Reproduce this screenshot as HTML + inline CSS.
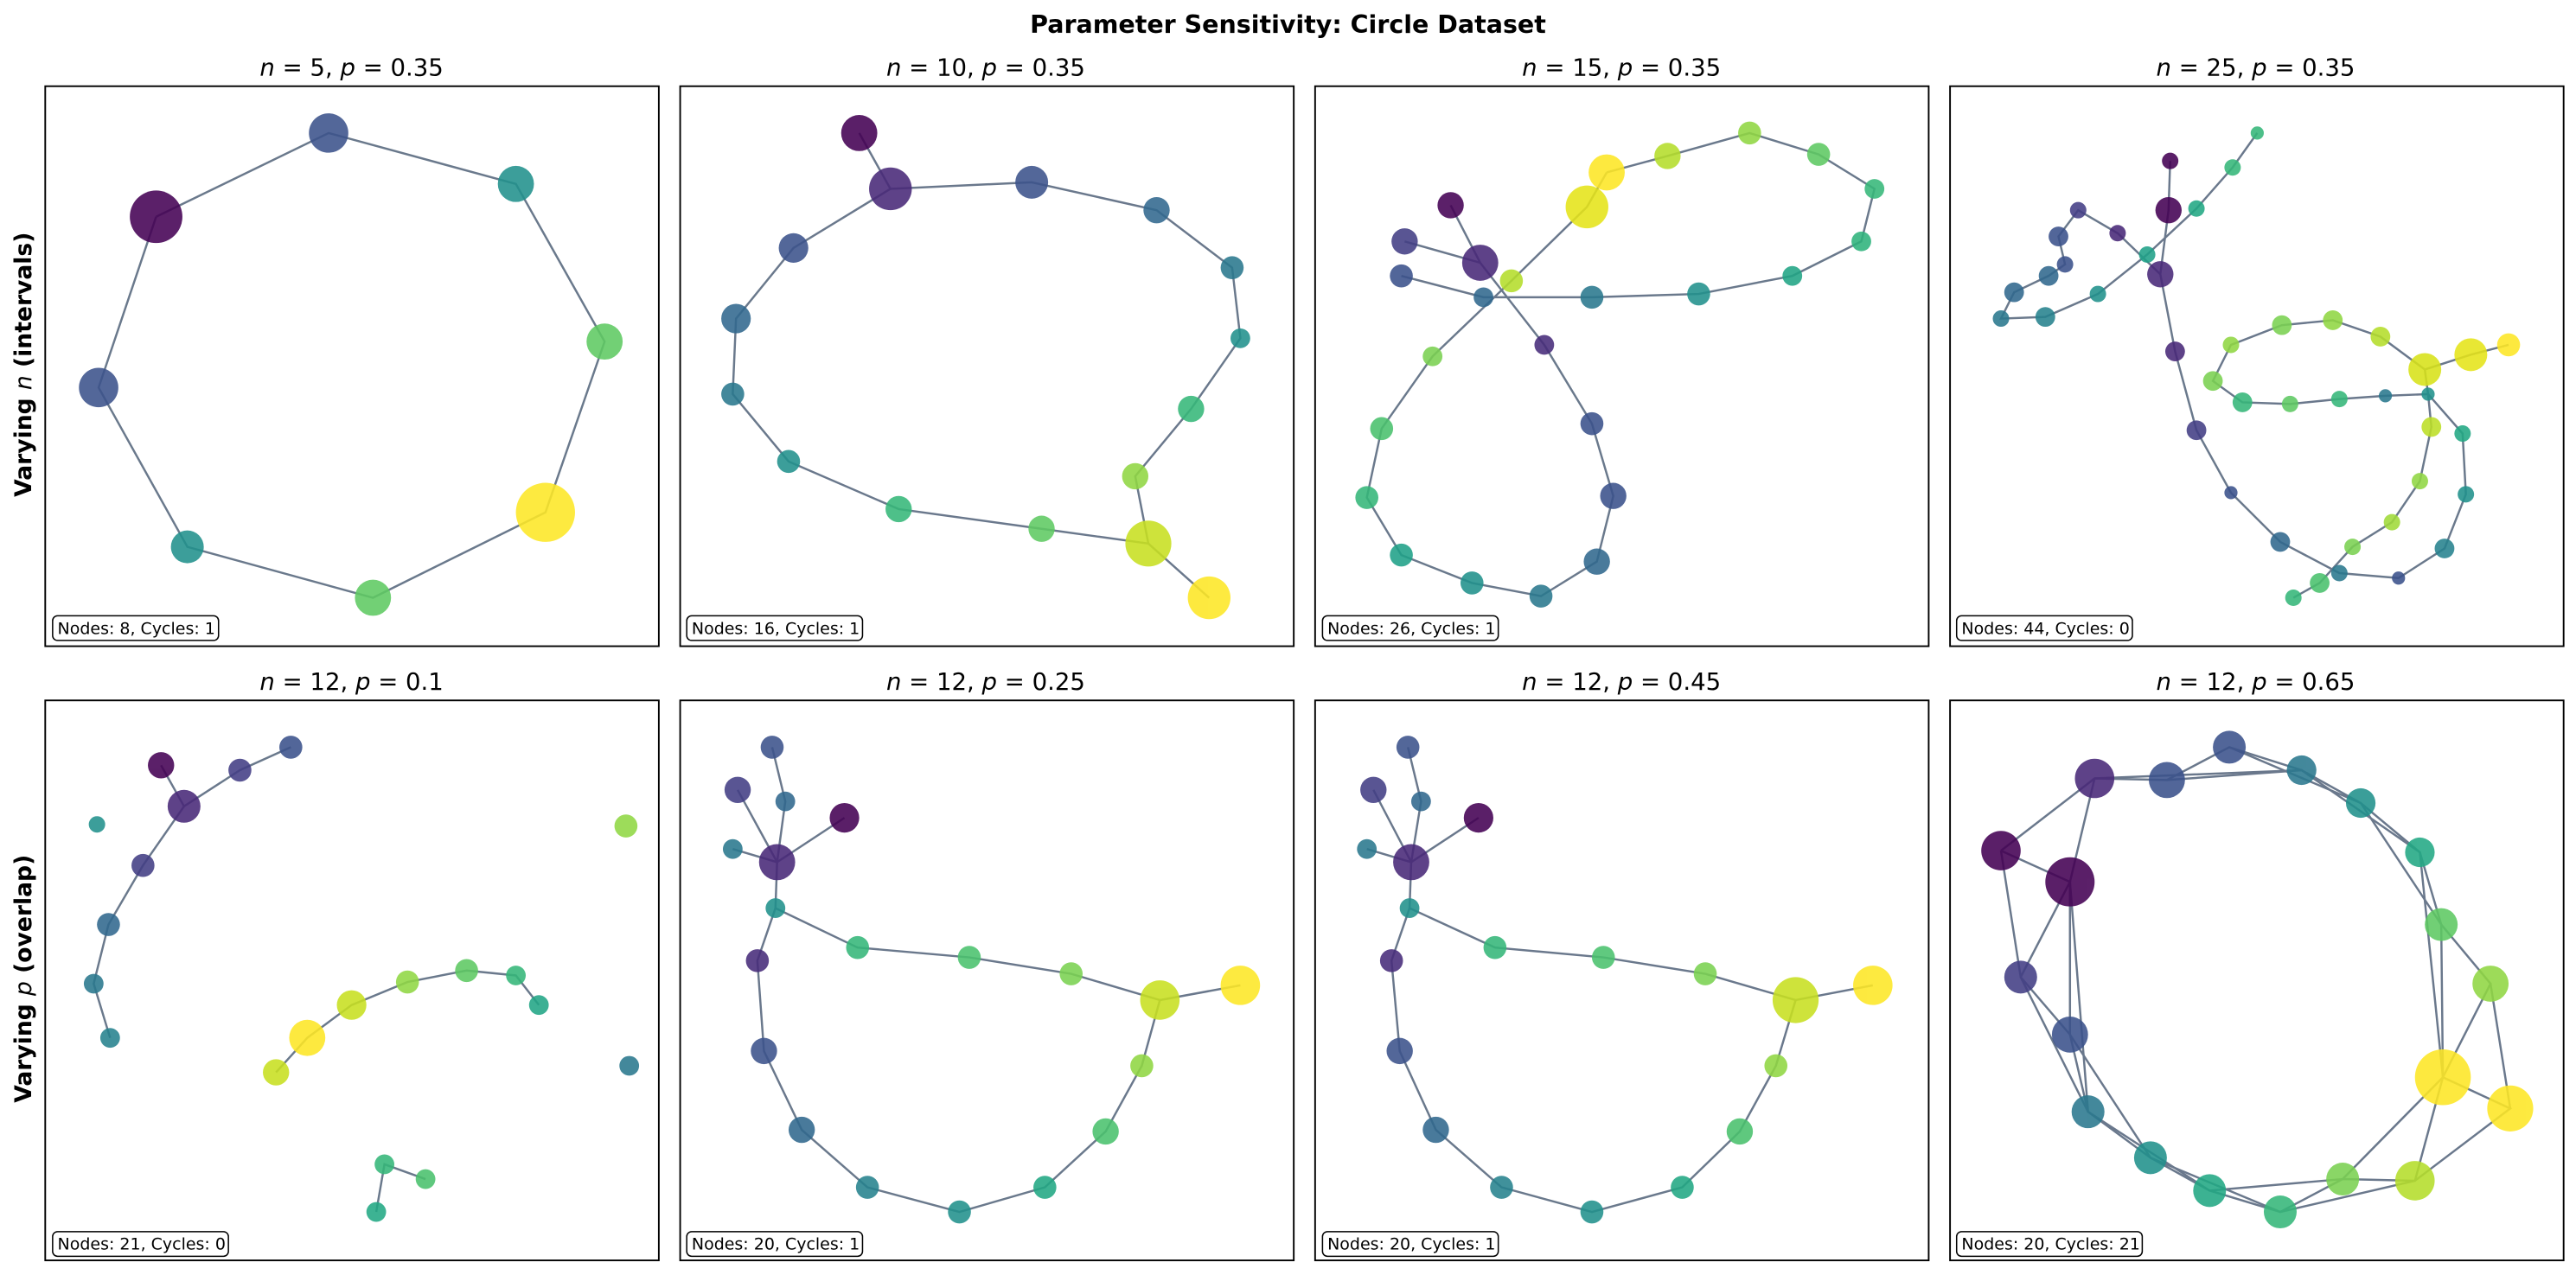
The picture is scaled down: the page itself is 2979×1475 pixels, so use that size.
<!DOCTYPE html>
<html><head><meta charset="utf-8"><style>
html,body{margin:0;padding:0;background:#fff}
svg{display:block}
text{font-family:"DejaVu Sans","Liberation Sans",sans-serif}
</style></head><body>
<svg width="2979" height="1475" viewBox="0 0 1568 776.4" xmlns="http://www.w3.org/2000/svg">
<rect width="1568" height="776.4" fill="#fff"/>
<text x="784" y="20" font-size="15" font-weight="bold" text-anchor="middle">Parameter Sensitivity: Circle Dataset</text>
<text transform="translate(19,222) rotate(-90)" font-size="14" font-weight="bold" text-anchor="middle">Varying <tspan font-style="italic" font-weight="normal">n</tspan> (intervals)</text>
<text transform="translate(19,596) rotate(-90)" font-size="14" font-weight="bold" text-anchor="middle">Varying <tspan font-style="italic" font-weight="normal">p</tspan> (overlap)</text>
<g font-size="14.5" text-anchor="middle">
<text x="214" y="46"><tspan font-style="italic">n</tspan> = 5, <tspan font-style="italic">p</tspan> = 0.35</text>
<text x="600" y="46"><tspan font-style="italic">n</tspan> = 10, <tspan font-style="italic">p</tspan> = 0.35</text>
<text x="987" y="46"><tspan font-style="italic">n</tspan> = 15, <tspan font-style="italic">p</tspan> = 0.35</text>
<text x="1373" y="46"><tspan font-style="italic">n</tspan> = 25, <tspan font-style="italic">p</tspan> = 0.35</text>
<text x="214" y="420"><tspan font-style="italic">n</tspan> = 12, <tspan font-style="italic">p</tspan> = 0.1</text>
<text x="600" y="420"><tspan font-style="italic">n</tspan> = 12, <tspan font-style="italic">p</tspan> = 0.25</text>
<text x="987" y="420"><tspan font-style="italic">n</tspan> = 12, <tspan font-style="italic">p</tspan> = 0.45</text>
<text x="1373" y="420"><tspan font-style="italic">n</tspan> = 12, <tspan font-style="italic">p</tspan> = 0.65</text>
</g>
<g stroke="#5a6a80" stroke-width="1.3" fill="none" opacity="0.9">
<polyline points="95,132 200,81 314,112 368,208 332,312 227,364 114,333 60,236 95,132"/>
<polyline points="523,81 542,115 628,111 704,128 750,163 755,206 725,249 691,290 699,331 736,364"/>
<polyline points="699,331 634,322 547,310 480,281 446,240 448,194 483,151 542,115"/>
<polyline points="883,125 901,160 940,210 969,258 982,302 972,342 938,363 896,355 853,338 832,303 841,261 872,217 920,171 966,126 978,105"/>
<polyline points="855,147 901,160"/>
<polyline points="853,168 903,181 969,181 1034,179 1091,168 1133,147 1141,115 1107,94 1065,81 1015,95 978,105"/>
<polyline points="1321,98 1320,128 1315,167 1324,214 1337,262 1358,300 1388,330 1424,349 1460,352 1488,334 1501,301 1499,264 1478,240 1480,260 1473,293 1456,318 1432,333 1412,355 1396,364"/>
<polyline points="1315,167 1289,142 1265,128 1253,144 1257,161 1247,168 1226,178 1218,194 1245,193 1277,179 1307,155 1337,127 1359,102 1374,81"/>
<polyline points="1478,240 1452,241 1424,243 1394,246 1365,245 1347,232 1358,210 1389,198 1420,195 1449,205 1476,225 1504,216 1527,210"/>
<polyline points="1476,225 1478,240"/>
<polyline points="98,466 112,491 146,469 177,455"/>
<polyline points="112,491 87,527 66,563 57,599 67,632"/>
<polyline points="168,653 187,632 214,612 248,598 284,591 314,594 328,612"/>
<polyline points="229,738 234,709 259,718"/>
<polyline points="470,455 478,488 473,525 472,553 461,585 465,640 488,688 528,723 584,738 636,723 673,689 695,649 706,609 755,600"/>
<polyline points="449,481 473,525 514,498"/><polyline points="446,517 473,525"/>
<polyline points="706,609 652,593 590,583 522,577 472,553"/>
<polyline points="857,455 865,488 859,525 858,553 847,585 852,640 874,688 914,723 969,738 1024,723 1059,689 1081,649 1093,609 1140,600"/>
<polyline points="836,481 859,525 900,498"/><polyline points="832,517 859,525"/>
<polyline points="1093,609 1038,593 976,583 910,577 858,553"/>
<polyline points="1218,518 1275,474 1319,475 1357,455 1401,469 1437,489 1473,519 1486,563 1516,599 1487,656 1528,675 1470,719 1426,718 1388,738 1345,725 1309,705 1271,677 1260,630 1230,595 1260,537 1218,518"/>
<polyline points="1275,474 1260,537 1260,630 1309,705 1388,738 1470,719 1487,656 1473,519 1401,469 1275,474"/>
<polyline points="1357,455 1437,489 1486,563 1487,656 1426,718 1345,725 1271,677 1230,595 1218,518"/>
<polyline points="1319,475 1401,469"/><polyline points="1516,599 1528,675"/><polyline points="1260,537 1271,677"/>
</g>
<g opacity="0.88" stroke="none">
<circle cx="95" cy="132" r="16" fill="#440154"/><circle cx="200" cy="81" r="12" fill="#3b528b"/><circle cx="314" cy="112" r="11" fill="#21918c"/><circle cx="368" cy="208" r="11" fill="#5ec962"/><circle cx="332" cy="312" r="18" fill="#fde725"/><circle cx="227" cy="364" r="11" fill="#5ec962"/><circle cx="114" cy="333" r="10" fill="#21918c"/><circle cx="60" cy="236" r="12" fill="#3b528b"/>
<circle cx="523" cy="81" r="11" fill="#440154"/><circle cx="542" cy="115" r="13" fill="#482878"/><circle cx="628" cy="111" r="10" fill="#3b528b"/><circle cx="704" cy="128" r="8" fill="#31688e"/><circle cx="750" cy="163" r="7" fill="#2a788e"/><circle cx="755" cy="206" r="6" fill="#21918c"/><circle cx="725" cy="249" r="8" fill="#35b779"/><circle cx="691" cy="290" r="8" fill="#90d743"/><circle cx="699" cy="331" r="14" fill="#c8e020"/><circle cx="736" cy="364" r="13" fill="#fde725"/><circle cx="634" cy="322" r="8" fill="#5ec962"/><circle cx="547" cy="310" r="8" fill="#35b779"/><circle cx="480" cy="281" r="7" fill="#21918c"/><circle cx="446" cy="240" r="7" fill="#2a788e"/><circle cx="448" cy="194" r="9" fill="#31688e"/><circle cx="483" cy="151" r="9" fill="#3b528b"/>
<circle cx="883" cy="125" r="8" fill="#440154"/><circle cx="901" cy="160" r="11" fill="#482878"/><circle cx="855" cy="147" r="8" fill="#433e85"/><circle cx="853" cy="168" r="7" fill="#3b528b"/><circle cx="903" cy="181" r="6" fill="#31688e"/><circle cx="920" cy="171" r="7" fill="#b5de2b"/><circle cx="966" cy="126" r="13" fill="#e5e419"/><circle cx="978" cy="105" r="11" fill="#fde725"/><circle cx="1015" cy="95" r="8" fill="#b5de2b"/><circle cx="1065" cy="81" r="7" fill="#90d743"/><circle cx="1107" cy="94" r="7" fill="#5ec962"/><circle cx="1141" cy="115" r="6" fill="#35b779"/><circle cx="1133" cy="147" r="6" fill="#2eb37c"/><circle cx="1091" cy="168" r="6" fill="#21a585"/><circle cx="1034" cy="179" r="7" fill="#21918c"/><circle cx="969" cy="181" r="7" fill="#2a788e"/><circle cx="940" cy="210" r="6" fill="#472c7a"/><circle cx="969" cy="258" r="7" fill="#3b528b"/><circle cx="982" cy="302" r="8" fill="#3b528b"/><circle cx="972" cy="342" r="8" fill="#31688e"/><circle cx="938" cy="363" r="7" fill="#2a788e"/><circle cx="896" cy="355" r="7" fill="#21918c"/><circle cx="853" cy="338" r="7" fill="#1fa188"/><circle cx="832" cy="303" r="7" fill="#35b779"/><circle cx="841" cy="261" r="7" fill="#4ac16d"/><circle cx="872" cy="217" r="6" fill="#7ad151"/>
<circle cx="1321" cy="98" r="5" fill="#440154"/><circle cx="1320" cy="128" r="8" fill="#440154"/><circle cx="1315" cy="167" r="8" fill="#482878"/><circle cx="1289" cy="142" r="5" fill="#482878"/><circle cx="1265" cy="128" r="5" fill="#433e85"/><circle cx="1253" cy="144" r="6" fill="#3b528b"/><circle cx="1257" cy="161" r="5" fill="#3b528b"/><circle cx="1247" cy="168" r="6" fill="#31688e"/><circle cx="1226" cy="178" r="6" fill="#31688e"/><circle cx="1218" cy="194" r="5" fill="#2a788e"/><circle cx="1245" cy="193" r="6" fill="#26828e"/><circle cx="1277" cy="179" r="5" fill="#21918c"/><circle cx="1307" cy="155" r="5" fill="#1fa188"/><circle cx="1337" cy="127" r="5" fill="#22a884"/><circle cx="1359" cy="102" r="5" fill="#35b779"/><circle cx="1374" cy="81" r="4" fill="#35b779"/><circle cx="1324" cy="214" r="6" fill="#482878"/><circle cx="1337" cy="262" r="6" fill="#433e85"/><circle cx="1358" cy="300" r="4" fill="#3b528b"/><circle cx="1388" cy="330" r="6" fill="#31688e"/><circle cx="1424" cy="349" r="5" fill="#2a788e"/><circle cx="1460" cy="352" r="4" fill="#3b528b"/><circle cx="1488" cy="334" r="6" fill="#26828e"/><circle cx="1501" cy="301" r="5" fill="#21918c"/><circle cx="1499" cy="264" r="5" fill="#22a884"/><circle cx="1480" cy="260" r="6" fill="#bddf26"/><circle cx="1478" cy="240" r="4" fill="#21918c"/><circle cx="1452" cy="241" r="4" fill="#2a788e"/><circle cx="1424" cy="243" r="5" fill="#35b779"/><circle cx="1394" cy="246" r="5" fill="#5ec962"/><circle cx="1365" cy="245" r="6" fill="#35b779"/><circle cx="1347" cy="232" r="6" fill="#7ad151"/><circle cx="1358" cy="210" r="5" fill="#90d743"/><circle cx="1389" cy="198" r="6" fill="#7ad151"/><circle cx="1420" cy="195" r="6" fill="#90d743"/><circle cx="1449" cy="205" r="6" fill="#b5de2b"/><circle cx="1476" cy="225" r="10" fill="#d8e219"/><circle cx="1504" cy="216" r="10" fill="#e5e419"/><circle cx="1527" cy="210" r="7" fill="#fde725"/><circle cx="1473" cy="293" r="5" fill="#90d743"/><circle cx="1456" cy="318" r="5" fill="#a0da39"/><circle cx="1432" cy="333" r="5" fill="#7ad151"/><circle cx="1412" cy="355" r="6" fill="#4ac16d"/><circle cx="1396" cy="364" r="5" fill="#35b779"/>
<circle cx="98" cy="466" r="8" fill="#440154"/><circle cx="112" cy="491" r="10" fill="#482878"/><circle cx="146" cy="469" r="7" fill="#433e85"/><circle cx="177" cy="455" r="7" fill="#3b528b"/><circle cx="87" cy="527" r="7" fill="#433e85"/><circle cx="66" cy="563" r="7" fill="#31688e"/><circle cx="57" cy="599" r="6" fill="#2a788e"/><circle cx="67" cy="632" r="6" fill="#26828e"/><circle cx="59" cy="502" r="5" fill="#21918c"/><circle cx="381" cy="503" r="7" fill="#90d743"/><circle cx="383" cy="649" r="6" fill="#2a788e"/><circle cx="168" cy="653" r="8" fill="#c8e020"/><circle cx="187" cy="632" r="11" fill="#fde725"/><circle cx="214" cy="612" r="9" fill="#c8e020"/><circle cx="248" cy="598" r="7" fill="#90d743"/><circle cx="284" cy="591" r="7" fill="#5ec962"/><circle cx="314" cy="594" r="6" fill="#35b779"/><circle cx="328" cy="612" r="6" fill="#21a585"/><circle cx="234" cy="709" r="6" fill="#35b779"/><circle cx="259" cy="718" r="6" fill="#4ac16d"/><circle cx="229" cy="738" r="6" fill="#22a884"/>
<circle cx="470" cy="455" r="7" fill="#3b528b"/><circle cx="449" cy="481" r="8" fill="#433e85"/><circle cx="478" cy="488" r="6" fill="#31688e"/><circle cx="446" cy="517" r="6" fill="#2a788e"/><circle cx="473" cy="525" r="11" fill="#482878"/><circle cx="514" cy="498" r="9" fill="#440154"/><circle cx="472" cy="553" r="6" fill="#21918c"/><circle cx="461" cy="585" r="7" fill="#472c7a"/><circle cx="465" cy="640" r="8" fill="#3b528b"/><circle cx="488" cy="688" r="8" fill="#31688e"/><circle cx="528" cy="723" r="7" fill="#26828e"/><circle cx="584" cy="738" r="7" fill="#21918c"/><circle cx="636" cy="723" r="7" fill="#22a884"/><circle cx="673" cy="689" r="8" fill="#4ac16d"/><circle cx="695" cy="649" r="7" fill="#90d743"/><circle cx="706" cy="609" r="12" fill="#c8e020"/><circle cx="755" cy="600" r="12" fill="#fde725"/><circle cx="652" cy="593" r="7" fill="#7ad151"/><circle cx="590" cy="583" r="7" fill="#4ac16d"/><circle cx="522" cy="577" r="7" fill="#35b779"/>
<circle cx="857" cy="455" r="7" fill="#3b528b"/><circle cx="836" cy="481" r="8" fill="#433e85"/><circle cx="865" cy="488" r="6" fill="#31688e"/><circle cx="832" cy="517" r="6" fill="#2a788e"/><circle cx="859" cy="525" r="11" fill="#482878"/><circle cx="900" cy="498" r="9" fill="#440154"/><circle cx="858" cy="553" r="6" fill="#21918c"/><circle cx="847" cy="585" r="7" fill="#472c7a"/><circle cx="852" cy="640" r="8" fill="#3b528b"/><circle cx="874" cy="688" r="8" fill="#31688e"/><circle cx="914" cy="723" r="7" fill="#26828e"/><circle cx="969" cy="738" r="7" fill="#21918c"/><circle cx="1024" cy="723" r="7" fill="#22a884"/><circle cx="1059" cy="689" r="8" fill="#4ac16d"/><circle cx="1081" cy="649" r="7" fill="#90d743"/><circle cx="1093" cy="609" r="14" fill="#c8e020"/><circle cx="1140" cy="600" r="12" fill="#fde725"/><circle cx="1038" cy="593" r="7" fill="#7ad151"/><circle cx="976" cy="583" r="7" fill="#4ac16d"/><circle cx="910" cy="577" r="7" fill="#35b779"/>
<circle cx="1218" cy="518" r="12" fill="#440154"/><circle cx="1260" cy="537" r="15" fill="#440154"/><circle cx="1275" cy="474" r="12" fill="#482878"/><circle cx="1319" cy="475" r="11" fill="#3b528b"/><circle cx="1357" cy="455" r="10" fill="#3b528b"/><circle cx="1401" cy="469" r="9" fill="#2a788e"/><circle cx="1437" cy="489" r="9" fill="#21918c"/><circle cx="1473" cy="519" r="9" fill="#22a884"/><circle cx="1486" cy="563" r="10" fill="#5ec962"/><circle cx="1516" cy="599" r="11" fill="#90d743"/><circle cx="1487" cy="656" r="17" fill="#fde725"/><circle cx="1528" cy="675" r="14" fill="#fde725"/><circle cx="1470" cy="719" r="12" fill="#b5de2b"/><circle cx="1426" cy="718" r="10" fill="#7ad151"/><circle cx="1388" cy="738" r="10" fill="#35b779"/><circle cx="1345" cy="725" r="10" fill="#22a884"/><circle cx="1309" cy="705" r="10" fill="#21918c"/><circle cx="1271" cy="677" r="10" fill="#2a788e"/><circle cx="1260" cy="630" r="11" fill="#3b528b"/><circle cx="1230" cy="595" r="10" fill="#433e85"/>
</g>
<g fill="none" stroke="#000" stroke-width="1">
<rect x="27.5" y="52.5" width="373.5" height="341"/><rect x="414" y="52.5" width="373.5" height="341"/><rect x="800.5" y="52.5" width="373.5" height="341"/><rect x="1187" y="52.5" width="373.5" height="341"/>
<rect x="27.5" y="426.5" width="373.5" height="341"/><rect x="414" y="426.5" width="373.5" height="341"/><rect x="800.5" y="426.5" width="373.5" height="341"/><rect x="1187" y="426.5" width="373.5" height="341"/>
</g>
<g font-size="10">
<rect x="32" y="375" width="101" height="15" rx="3" fill="#fff" stroke="#000" stroke-width="0.8"/><text x="35" y="386">Nodes: 8, Cycles: 1</text>
<rect x="418" y="375" width="107" height="15" rx="3" fill="#fff" stroke="#000" stroke-width="0.8"/><text x="421" y="386">Nodes: 16, Cycles: 1</text>
<rect x="805" y="375" width="107" height="15" rx="3" fill="#fff" stroke="#000" stroke-width="0.8"/><text x="808" y="386">Nodes: 26, Cycles: 1</text>
<rect x="1191" y="375" width="107" height="15" rx="3" fill="#fff" stroke="#000" stroke-width="0.8"/><text x="1194" y="386">Nodes: 44, Cycles: 0</text>
<rect x="32" y="750" width="107" height="15" rx="3" fill="#fff" stroke="#000" stroke-width="0.8"/><text x="35" y="761">Nodes: 21, Cycles: 0</text>
<rect x="418" y="750" width="107" height="15" rx="3" fill="#fff" stroke="#000" stroke-width="0.8"/><text x="421" y="761">Nodes: 20, Cycles: 1</text>
<rect x="805" y="750" width="107" height="15" rx="3" fill="#fff" stroke="#000" stroke-width="0.8"/><text x="808" y="761">Nodes: 20, Cycles: 1</text>
<rect x="1191" y="750" width="113" height="15" rx="3" fill="#fff" stroke="#000" stroke-width="0.8"/><text x="1194" y="761">Nodes: 20, Cycles: 21</text>
</g>
</svg>
</body></html>
